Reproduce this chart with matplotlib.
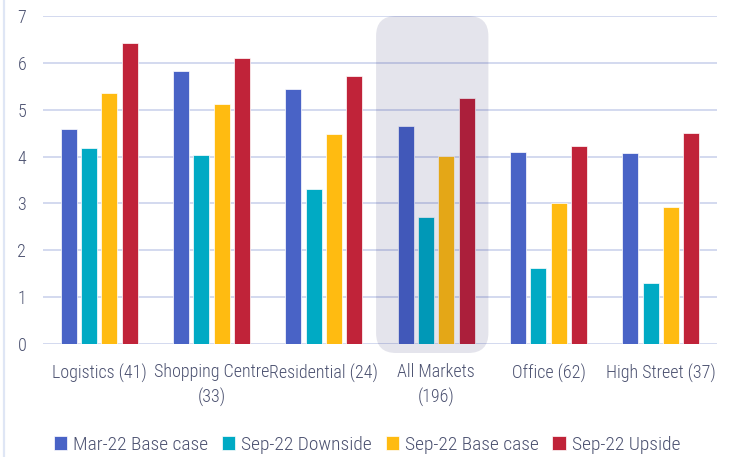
import matplotlib
matplotlib.use("Agg")
import matplotlib.pyplot as plt
from matplotlib import font_manager
from matplotlib.patches import FancyBboxPatch
from matplotlib.lines import Line2D
from matplotlib.transforms import IdentityTransform
import numpy as np

# ---- data ----
categories = ["Logistics (41)", "Shopping Centre\n(33)", "Residential (24)",
              "All Markets\n(196)", "Office (62)", "High Street (37)"]
series_names = ["Mar-22 Base case", "Sep-22 Downside", "Sep-22 Base case", "Sep-22 Upside"]
mar22_base = [4.58, 5.82, 5.45, 4.65, 4.09, 4.07]
sep22_down = [4.18, 4.04, 3.30, 2.72, 1.62, 1.31]
sep22_base = [5.36, 5.12, 4.49, 4.02, 3.01, 2.93]
sep22_up = [6.42, 6.11, 5.73, 5.24, 4.23, 4.50]
y_ticks = [0, 1, 2, 3, 4, 5, 6, 7]
highlight_index = 3

colors = ["#4963c6", "#00aac4", "#ffbb11", "#c02339"]
text_color = "#4b5170"
grid_color = "#d3d9ef"

# pick a narrow sans face if one is installed
fonts = font_manager.fontManager.ttflist
names = {f.name for f in fonts}
font_kw = {}
for cand in ["Roboto Condensed", "Liberation Sans Narrow", "Open Sans Condensed",
             "Noto Sans Condensed", "DejaVu Sans Condensed"]:
    if cand in names:
        font_kw = {"family": [cand, "DejaVu Sans"], "stretch": "normal", "size": 13}
        break
if not font_kw:
    font_kw = {"family": ["Roboto", "DejaVu Sans"], "stretch": "normal", "size": 11}

plt.rcParams["font.family"] = font_kw["family"]
plt.rcParams["font.stretch"] = font_kw["stretch"]
plt.rcParams["font.weight"] = "light"
fs = font_kw["size"]

fig = plt.figure(figsize=(7.31, 4.57), dpi=100)
ax = fig.add_axes([43 / 731, 1 - 344 / 457, (717 - 43) / 731, (344 - 16) / 457])

series = [mar22_base, sep22_down, sep22_base, sep22_up]
x = np.arange(len(categories))
bar_w = 0.143
stride = 0.181
for i, (vals, col) in enumerate(zip(series, colors)):
    offs = (i - 1.5) * stride
    ax.bar(x + offs, vals, width=bar_w, color=col, edgecolor="white",
           linewidth=0.5, zorder=3, label=series_names[i])

ax.set_xlim(-0.5, len(categories) - 0.5)
ax.set_ylim(0, 7)
ax.set_yticks(y_ticks)
ax.set_xticks(x)
ax.set_xticklabels(categories, linespacing=1.45)
ax.tick_params(axis="both", length=0, colors=text_color, labelsize=fs)
ax.tick_params(axis="y", pad=12)
ax.tick_params(axis="x", pad=14)
for s in ax.spines.values():
    s.set_visible(False)
ax.grid(axis="y", color=grid_color, linewidth=1.4, zorder=1)
ax.set_axisbelow(True)

# highlighted group panel, drawn in pixel space for even corner rounding
x0_px, y0_px = ax.transData.transform((highlight_index - 0.535, 0))
x1_px, y1_px = ax.transData.transform((highlight_index + 0.465, 7))
y0_px -= 9
panel = FancyBboxPatch((x0_px, y0_px), x1_px - x0_px, y1_px - y0_px,
                       boxstyle="round,pad=0,rounding_size=20",
                       facecolor=(0, 0, 80 / 255), alpha=0.106, edgecolor="none",
                       transform=IdentityTransform(), zorder=5)
fig.add_artist(panel)

# thin frame line at the left edge
fig.add_artist(Line2D([4 / 731, 4 / 731], [0, 1], transform=fig.transFigure,
                      color="#dfe6f5", linewidth=1.6))

leg = fig.legend(loc="center", bbox_to_anchor=(0.502, 1 - 445 / 457), ncol=4,
                 frameon=False, handlelength=0.7, handleheight=0.7,
                 handletextpad=0.3, columnspacing=0.7,
                 prop={"size": fs + 1, "weight": "light"})
for t in leg.get_texts():
    t.set_color(text_color)

fig.savefig("out.png", dpi=100)
